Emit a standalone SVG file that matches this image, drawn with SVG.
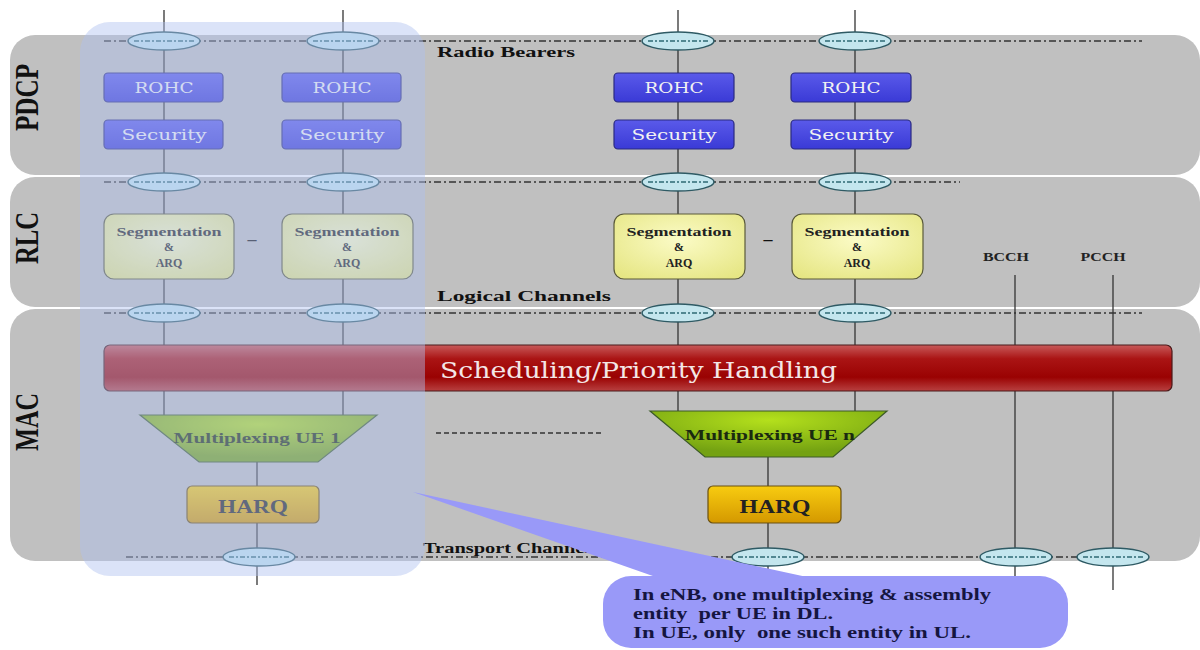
<svg xmlns="http://www.w3.org/2000/svg" width="1200" height="650" viewBox="0 0 1200 650">
<defs>
<style>
.band{fill:#c0c0c0}
.dd{stroke:#333;stroke-width:1.3;stroke-dasharray:7,3,2,3;fill:none}
.vl{stroke:#333;stroke-width:1.3;fill:none}
.ell{fill:#c4e6ee;stroke:#2e5a64;stroke-width:1.5}
.ein{stroke:#2e6a74;stroke-width:1.3;stroke-dasharray:5,2,2,2}
.blue{fill:url(#gBlue);stroke:#2a2a80;stroke-width:1.2}
.seg{fill:url(#gSeg);stroke:#5a5a3a;stroke-width:1.2}
.harq{fill:url(#gHarq);stroke:#6a5010;stroke-width:1.2}
.trap{fill:url(#gTrap);stroke:#3c5a28;stroke-width:1.2}
.lay{font-family:"Liberation Serif",serif;font-weight:bold;font-size:34px;fill:#111}
.lbl{font-family:"Liberation Serif",serif;font-weight:bold;font-size:15px;fill:#111}
.btxt{font-family:"DejaVu Serif",serif;font-size:14px;fill:#f2f2f2;text-anchor:middle}
.stxt{font-family:"Liberation Serif",serif;font-weight:bold;font-size:12px;fill:#222;text-anchor:middle}
.htxt{font-family:"Liberation Serif",serif;font-weight:bold;font-size:19px;fill:#222;text-anchor:middle}
.mtxt{font-family:"Liberation Serif",serif;font-weight:bold;font-size:15px;fill:#1a2a10;text-anchor:middle}
.ctxt{font-family:"Liberation Serif",serif;font-weight:bold;font-size:16px;fill:#151540;white-space:pre}
</style>
<linearGradient id="gBlue" x1="0" y1="0" x2="0" y2="1"><stop offset="0" stop-color="#5a5aea"/><stop offset="1" stop-color="#3a3ad6"/></linearGradient>
<radialGradient id="gSeg" cx="0.5" cy="0.4" r="0.7"><stop offset="0" stop-color="#fbfbc6"/><stop offset="1" stop-color="#e6e684"/></radialGradient>
<linearGradient id="gHarq" x1="0" y1="0" x2="0" y2="1"><stop offset="0" stop-color="#f8cc10"/><stop offset="1" stop-color="#d49800"/></linearGradient>
<radialGradient id="gTrap" cx="0.5" cy="0.2" r="0.7"><stop offset="0" stop-color="#b4e01c"/><stop offset="1" stop-color="#74a212"/></radialGradient>
<linearGradient id="gBar" x1="0" y1="0" x2="0" y2="1"><stop offset="0" stop-color="#c85a5a"/><stop offset="0.3" stop-color="#aa1414"/><stop offset="0.7" stop-color="#9a0202"/><stop offset="1" stop-color="#b84040"/></linearGradient>
</defs>

<g id="layers">
<rect class="band" x="10" y="35" width="1190" height="140" rx="25"/>
<rect class="band" x="10" y="177" width="1190" height="130" rx="25"/>
<rect class="band" x="10" y="309" width="1190" height="252" rx="25"/>
<text class="lay" transform="translate(38,131) rotate(-90)" textLength="67" lengthAdjust="spacingAndGlyphs">PDCP</text>
<text class="lay" transform="translate(38,264) rotate(-90)" textLength="52" lengthAdjust="spacingAndGlyphs">RLC</text>
<text class="lay" transform="translate(38,451) rotate(-90)" textLength="58" lengthAdjust="spacingAndGlyphs">MAC</text>
</g>

<g id="connectors">
<line class="dd" x1="104" y1="41" x2="1142" y2="41"/>
<line class="dd" x1="104" y1="182" x2="960" y2="182"/>
<line class="dd" x1="104" y1="313" x2="1142" y2="313"/>
<line class="dd" x1="126" y1="557" x2="1145" y2="557"/>
<line class="dd" x1="436" y1="433" x2="604" y2="433" style="stroke-dasharray:5,3"/>
<line class="vl" x1="164" y1="10" x2="164" y2="415"/>
<line class="vl" x1="343" y1="10" x2="343" y2="415"/>
<line class="vl" x1="678" y1="10" x2="678" y2="411"/>
<line class="vl" x1="855" y1="10" x2="855" y2="411"/>
<line class="vl" x1="1015" y1="275" x2="1015" y2="600"/>
<line class="vl" x1="1113" y1="275" x2="1113" y2="590"/>
<line class="vl" x1="257" y1="462" x2="257" y2="585"/>
<line class="vl" x1="768" y1="457" x2="768" y2="600"/>
<text class="lbl" x="437" y="57" textLength="138" lengthAdjust="spacingAndGlyphs">Radio Bearers</text>
<text class="lbl" x="437" y="301" textLength="174" lengthAdjust="spacingAndGlyphs">Logical Channels</text>
<text class="lbl" x="423" y="553" textLength="175" lengthAdjust="spacingAndGlyphs">Transport Channels</text>
<text class="stxt" x="1006" y="261" textLength="46" lengthAdjust="spacingAndGlyphs">BCCH</text>
<text class="stxt" x="1103" y="261" textLength="45" lengthAdjust="spacingAndGlyphs">PCCH</text>
<text class="lbl" x="252" y="245" style="font-size:18px;text-anchor:middle">–</text>
<text class="lbl" x="768" y="245" style="font-size:18px;text-anchor:middle">–</text>
</g>

<g id="bearers">
<g id="e-rb1"><ellipse class="ell" cx="164" cy="41" rx="36" ry="9"/><line class="ein" x1="134" y1="41" x2="194" y2="41"/></g>
<g id="e-rb2"><ellipse class="ell" cx="343" cy="41" rx="36" ry="9"/><line class="ein" x1="313" y1="41" x2="373" y2="41"/></g>
<g id="e-rb3"><ellipse class="ell" cx="678" cy="41" rx="36" ry="9"/><line class="ein" x1="648" y1="41" x2="708" y2="41"/></g>
<g id="e-rb4"><ellipse class="ell" cx="855" cy="41" rx="36" ry="9"/><line class="ein" x1="825" y1="41" x2="885" y2="41"/></g>
<g id="e-rl1"><ellipse class="ell" cx="164" cy="182" rx="36" ry="9"/><line class="ein" x1="134" y1="182" x2="194" y2="182"/></g>
<g id="e-rl2"><ellipse class="ell" cx="343" cy="182" rx="36" ry="9"/><line class="ein" x1="313" y1="182" x2="373" y2="182"/></g>
<g id="e-rl3"><ellipse class="ell" cx="678" cy="182" rx="36" ry="9"/><line class="ein" x1="648" y1="182" x2="708" y2="182"/></g>
<g id="e-rl4"><ellipse class="ell" cx="855" cy="182" rx="36" ry="9"/><line class="ein" x1="825" y1="182" x2="885" y2="182"/></g>
<g id="e-lc1"><ellipse class="ell" cx="164" cy="313" rx="36" ry="9"/><line class="ein" x1="134" y1="313" x2="194" y2="313"/></g>
<g id="e-lc2"><ellipse class="ell" cx="343" cy="313" rx="36" ry="9"/><line class="ein" x1="313" y1="313" x2="373" y2="313"/></g>
<g id="e-lc3"><ellipse class="ell" cx="678" cy="313" rx="36" ry="9"/><line class="ein" x1="648" y1="313" x2="708" y2="313"/></g>
<g id="e-lc4"><ellipse class="ell" cx="855" cy="313" rx="36" ry="9"/><line class="ein" x1="825" y1="313" x2="885" y2="313"/></g>
<g id="e-tc1"><ellipse class="ell" cx="259" cy="557" rx="36" ry="9"/><line class="ein" x1="229" y1="557" x2="289" y2="557"/></g>
<g id="e-tc2"><ellipse class="ell" cx="768" cy="557" rx="36" ry="9"/><line class="ein" x1="738" y1="557" x2="798" y2="557"/></g>
<g id="e-tc3"><ellipse class="ell" cx="1016" cy="557" rx="36" ry="9"/><line class="ein" x1="986" y1="557" x2="1046" y2="557"/></g>
<g id="e-tc4"><ellipse class="ell" cx="1113" cy="557" rx="36" ry="9"/><line class="ein" x1="1083" y1="557" x2="1143" y2="557"/></g>
</g>

<g id="rohc1"><rect class="blue" x="104" y="73" width="119" height="29" rx="4"/><text class="btxt" x="164" y="93" textLength="59" lengthAdjust="spacingAndGlyphs">ROHC</text></g>
<g id="rohc2"><rect class="blue" x="282" y="73" width="119" height="29" rx="4"/><text class="btxt" x="342" y="93" textLength="59" lengthAdjust="spacingAndGlyphs">ROHC</text></g>
<g id="rohc3"><rect class="blue" x="614" y="73" width="120" height="29" rx="4"/><text class="btxt" x="674" y="93" textLength="59" lengthAdjust="spacingAndGlyphs">ROHC</text></g>
<g id="rohc4"><rect class="blue" x="791" y="73" width="120" height="29" rx="4"/><text class="btxt" x="851" y="93" textLength="59" lengthAdjust="spacingAndGlyphs">ROHC</text></g>
<g id="sec1"><rect class="blue" x="104" y="120" width="119" height="29" rx="4"/><text class="btxt" x="164" y="140" textLength="85" lengthAdjust="spacingAndGlyphs">Security</text></g>
<g id="sec2"><rect class="blue" x="282" y="120" width="119" height="29" rx="4"/><text class="btxt" x="342" y="140" textLength="85" lengthAdjust="spacingAndGlyphs">Security</text></g>
<g id="sec3"><rect class="blue" x="614" y="120" width="120" height="29" rx="4"/><text class="btxt" x="674" y="140" textLength="85" lengthAdjust="spacingAndGlyphs">Security</text></g>
<g id="sec4"><rect class="blue" x="791" y="120" width="120" height="29" rx="4"/><text class="btxt" x="851" y="140" textLength="85" lengthAdjust="spacingAndGlyphs">Security</text></g>

<g id="seg1"><rect class="seg" x="104" y="214" width="130" height="65" rx="10"/><text class="stxt" x="169" y="236" textLength="105" lengthAdjust="spacingAndGlyphs">Segmentation</text><text class="stxt" x="169" y="251">&amp;</text><text class="stxt" x="169" y="267">ARQ</text></g>
<g id="seg2"><rect class="seg" x="282" y="214" width="131" height="65" rx="10"/><text class="stxt" x="347" y="236" textLength="105" lengthAdjust="spacingAndGlyphs">Segmentation</text><text class="stxt" x="347" y="251">&amp;</text><text class="stxt" x="347" y="267">ARQ</text></g>
<g id="seg3"><rect class="seg" x="614" y="214" width="131" height="65" rx="10"/><text class="stxt" x="679" y="236" textLength="105" lengthAdjust="spacingAndGlyphs">Segmentation</text><text class="stxt" x="679" y="251">&amp;</text><text class="stxt" x="679" y="267">ARQ</text></g>
<g id="seg4"><rect class="seg" x="792" y="214" width="131" height="65" rx="10"/><text class="stxt" x="857" y="236" textLength="105" lengthAdjust="spacingAndGlyphs">Segmentation</text><text class="stxt" x="857" y="251">&amp;</text><text class="stxt" x="857" y="267">ARQ</text></g>

<g id="scheduling"><rect x="104" y="345" width="1068" height="46" rx="6" fill="url(#gBar)" stroke="#4a1a1a" stroke-width="1.2"/><text x="440" y="378" textLength="397" lengthAdjust="spacingAndGlyphs" style="font-family:'DejaVu Serif',serif;font-size:23px;fill:#f4e6e6">Scheduling/Priority Handling</text></g>

<g id="mux1"><polygon class="trap" points="140,415 377,415 318,462 199,462"/><text class="mtxt" x="257" y="443" textLength="167" lengthAdjust="spacingAndGlyphs">Multiplexing UE 1</text></g>
<g id="muxn"><polygon class="trap" points="650,411 887,411 833,457 705,457"/><text class="mtxt" x="770" y="440" textLength="170" lengthAdjust="spacingAndGlyphs">Multiplexing UE n</text></g>

<g id="harq1"><rect class="harq" x="187" y="486" width="132" height="37" rx="5"/><text class="htxt" x="253" y="513" textLength="70" lengthAdjust="spacingAndGlyphs">HARQ</text></g>
<g id="harqn"><rect class="harq" x="708" y="486" width="133" height="37" rx="5"/><text class="htxt" x="775" y="513" textLength="71" lengthAdjust="spacingAndGlyphs">HARQ</text></g>

<g id="ue-overlay"><rect x="80" y="22" width="345" height="554" rx="30" fill="rgb(176,194,239)" fill-opacity="0.45"/></g>

<g id="callout">
<polygon points="413,492 830,582 670,582" fill="#9999f8"/>
<rect x="603" y="576" width="465" height="72" rx="28" fill="#9999f8"/>
<text class="ctxt" x="633" y="600" textLength="358" lengthAdjust="spacingAndGlyphs">In eNB, one multiplexing &amp; assembly</text>
<text class="ctxt" x="633" y="619" textLength="200" lengthAdjust="spacingAndGlyphs" xml:space="preserve">entity  per UE in DL.</text>
<text class="ctxt" x="633" y="638" textLength="338" lengthAdjust="spacingAndGlyphs" xml:space="preserve">In UE, only  one such entity in UL.</text>
</g>
</svg>
